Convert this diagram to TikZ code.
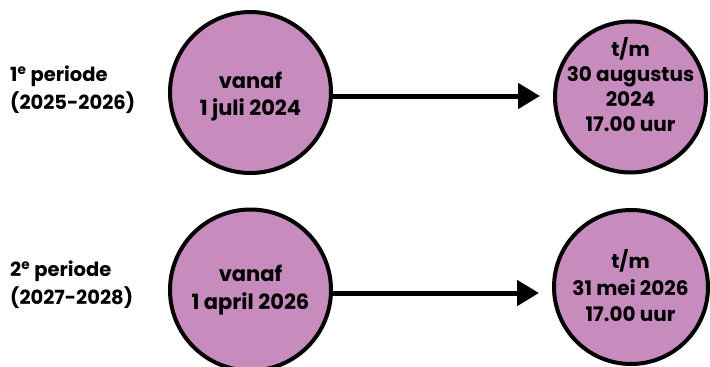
\documentclass[tikz,border=0pt]{standalone}
\usepackage{fontspec}
\setmainfont{Poppins}
\usetikzlibrary{arrows.meta}
\definecolor{circfill}{RGB}{199,139,190}
\tikzset{
  stage/.style={circle, draw=black, line width=4pt, fill=circfill, inner sep=0pt},
  lbl/.style={align=center, inner sep=0pt},
  side/.style={align=left, anchor=west, inner sep=0pt, font=\bfseries\fontsize{19.5}{28}\selectfont},
  flow/.style={line width=5pt, -{Triangle[length=22pt,width=25pt]}, shorten >=13pt}
}
\begin{document}
\begin{tikzpicture}[x=1pt,y=-1pt]
\useasboundingbox (0,0) rectangle (710,367);
% circles
\node[stage, minimum size=161pt] (c1) at (250.5,92.5) {};
\node[stage, minimum size=151pt] (c2) at (630.5,97) {};
\node[stage, minimum size=161pt] (c3) at (250.5,290) {};
\node[stage, minimum size=154pt] (c4) at (631,287) {};
% arrow levels
\coordinate (y1) at (0,96);
\coordinate (y2) at (0,293);
\draw[flow] (c1.east |- y1) -- (c2.west |- y1);
\draw[flow] (c3.east |- y2) -- (c4.west |- y2);
% circle texts
\node[lbl, font=\bfseries\fontsize{21}{27}\selectfont] (t1) at (250.5,96.5) {vanaf\\1 juli 2024};
\node[lbl, font=\bfseries\fontsize{20}{25}\selectfont] (t2) at (630.5,84.5) {t/m\\30 augustus\\2024\\17.00 uur};
\node[lbl, font=\bfseries\fontsize{21}{28}\selectfont] (t3) at (250.5,290) {vanaf\\1 april 2026};
\node[lbl, font=\bfseries\fontsize{20}{26.5}\selectfont] (t4) at (630.5,286) {t/m\\31 mei 2026\\17.00 uur};
% side labels
\node[side] (s1) at (10,90) {1\textsuperscript{e} periode\\(2025-2026)};
\node[side] (s2) at (10,285) {2\textsuperscript{e} periode\\(2027-2028)};
\end{tikzpicture}
\end{document}
